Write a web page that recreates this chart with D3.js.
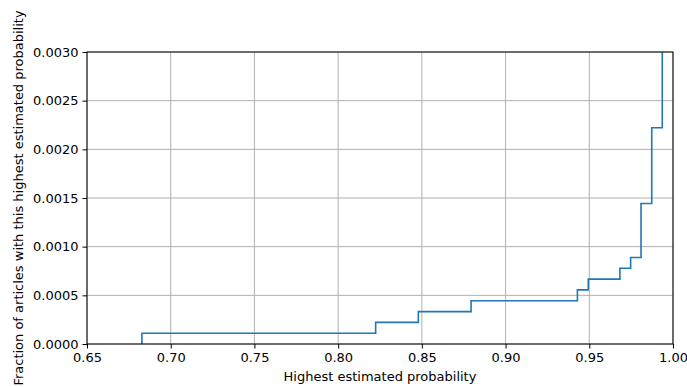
<!DOCTYPE html>
<html>
<head>
<meta charset="utf-8">
<script src="https://cdn.jsdelivr.net/npm/d3@7"></script>
<style>
  body { margin: 0; background: #fff; }
  svg { font-family: "DejaVu Sans", sans-serif; }
</style>
</head>
<body>
<div id="chart"></div>
<script>
// step positions (highest estimated probability) and the fraction reached there
const stepX = [0.6828, 0.6828, 0.8224, 0.8479, 0.8794, 0.9429, 0.9494, 0.9683, 0.9747, 0.9809, 0.9873, 0.9936];
const stepY = [0, 0.000111, 0.000222, 0.000333, 0.000444, 0.000556, 0.000667, 0.000778, 0.000889, 0.001444, 0.002222, 0.0035];
const xTicks = [0.65, 0.70, 0.75, 0.80, 0.85, 0.90, 0.95, 1.00];
const yTicks = [0, 0.0005, 0.0010, 0.0015, 0.0020, 0.0025, 0.0030];

const width = 687, height = 387;
const margin = { top: 52, right: 14, bottom: 43, left: 87 };
const innerW = width - margin.left - margin.right;
const innerH = height - margin.top - margin.bottom;
const fs = 13;

const svg = d3.select("#chart").append("svg")
  .attr("width", width)
  .attr("height", height);

const x = d3.scaleLinear().domain([0.65, 1.0]).range([0, innerW]);
const y = d3.scaleLinear().domain([0, 0.003]).range([innerH, 0]);

const g = svg.append("g").attr("transform", `translate(${margin.left},${margin.top})`);

svg.append("defs").append("clipPath").attr("id", "clip")
  .append("rect").attr("width", innerW).attr("height", innerH);

// grid
g.append("g").selectAll("line").data(xTicks).join("line")
  .attr("x1", d => x(d)).attr("x2", d => x(d))
  .attr("y1", 0).attr("y2", innerH)
  .attr("stroke", "#b0b0b0").attr("stroke-width", 1);
g.append("g").selectAll("line").data(yTicks).join("line")
  .attr("y1", d => y(d)).attr("y2", d => y(d))
  .attr("x1", 0).attr("x2", innerW)
  .attr("stroke", "#b0b0b0").attr("stroke-width", 1);

// step line
const pts = stepX.map((d, i) => [d, stepY[i]]);
g.append("path")
  .datum(pts)
  .attr("clip-path", "url(#clip)")
  .attr("fill", "none")
  .attr("stroke", "#1f77b4")
  .attr("stroke-width", 1.6)
  .attr("d", d3.line().x(d => x(d[0])).y(d => y(d[1])).curve(d3.curveStepAfter));

// axes
const xAxis = g.append("g").attr("transform", `translate(0,${innerH})`)
  .call(d3.axisBottom(x).tickValues(xTicks).tickFormat(d3.format(".2f")).tickSizeOuter(0).tickSize(4.5).tickPadding(4));
const yAxis = g.append("g")
  .call(d3.axisLeft(y).tickValues(yTicks).tickFormat(d3.format(".4f")).tickSizeOuter(0).tickSize(4.5).tickPadding(4));
[xAxis, yAxis].forEach(a => {
  a.select(".domain").remove();
  a.selectAll("text").attr("font-size", fs).attr("fill", "#000").attr("font-family", "DejaVu Sans");
  a.selectAll("line").attr("stroke", "#000");
});

// spines
g.append("rect").attr("width", innerW).attr("height", innerH)
  .attr("fill", "none").attr("stroke", "#000").attr("stroke-width", 1);

svg.append("text")
  .attr("x", margin.left + innerW / 2).attr("y", 381)
  .attr("text-anchor", "middle").attr("font-size", fs)
  .text("Highest estimated probability");

svg.append("text")
  .attr("transform", `translate(23,${margin.top + innerH / 2}) rotate(-90)`)
  .attr("text-anchor", "middle").attr("font-size", fs)
  .text("Fraction of articles with this highest estimated probability");
</script>
</body>
</html>
